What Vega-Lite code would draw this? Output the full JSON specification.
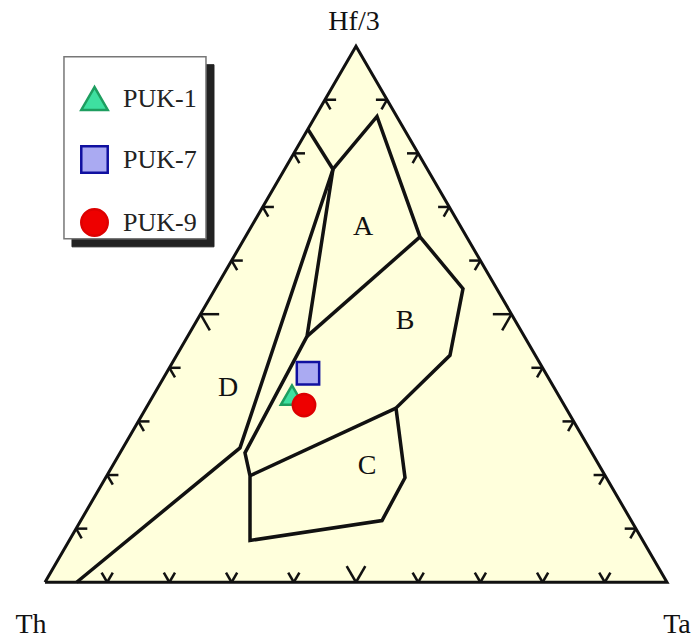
{
  "$schema": "https://vega.github.io/schema/vega-lite/v6.json",
  "width": 691,
  "height": 639,
  "autosize": {"type": "fit", "contains": "padding"},
  "padding": 0,
  "background": "white",
  "config": {"view": {"stroke": null}},
  "datasets": {
    "fillTri": [
      {"x": 0, "y": 0},
      {"x": 50, "y": 86.6},
      {"x": 100, "y": 0}
    ],
    "frame": [
      {"g": "frame", "i": 0, "x": 0, "y": 0},
      {"g": "frame", "i": 1, "x": 100, "y": 0},
      {"g": "frame", "i": 2, "x": 50, "y": 86.6},
      {"g": "frame", "i": 3, "x": 0, "y": 0}
    ],
    "fields": [
      {"g": "L1", "i": 0, "x": 42.28, "y": 73.15},
      {"g": "L1", "i": 1, "x": 46.3, "y": 66.72},
      {"g": "L2", "i": 0, "x": 46.3, "y": 66.72},
      {"g": "L2", "i": 1, "x": 53.38, "y": 75.24},
      {"g": "L2", "i": 2, "x": 60.29, "y": 55.79},
      {"g": "L2", "i": 3, "x": 67.2, "y": 47.43},
      {"g": "L2", "i": 4, "x": 65.11, "y": 36.66},
      {"g": "L2", "i": 5, "x": 56.43, "y": 28.14},
      {"g": "L2", "i": 6, "x": 57.88, "y": 16.88},
      {"g": "L2", "i": 7, "x": 54.18, "y": 9.97},
      {"g": "L2", "i": 8, "x": 32.96, "y": 6.75},
      {"g": "L2", "i": 9, "x": 32.96, "y": 17.2},
      {"g": "L2", "i": 10, "x": 32.15, "y": 20.9},
      {"g": "L2", "i": 11, "x": 42.12, "y": 39.71},
      {"g": "L2", "i": 12, "x": 46.3, "y": 66.72},
      {"g": "L3", "i": 0, "x": 46.3, "y": 66.72},
      {"g": "L3", "i": 1, "x": 31.35, "y": 21.7},
      {"g": "L3", "i": 2, "x": 5.09, "y": 0},
      {"g": "L4", "i": 0, "x": 60.29, "y": 55.79},
      {"g": "L4", "i": 1, "x": 42.12, "y": 39.71},
      {"g": "L5", "i": 0, "x": 32.96, "y": 17.2},
      {"g": "L5", "i": 1, "x": 56.43, "y": 28.14}
    ],
    "ticks": [
      {"x": 5, "y": 8.66, "x2": 6.8, "y2": 8.66}, {"x": 5, "y": 8.66, "x2": 5.9, "y2": 7.1},
      {"x": 10, "y": 17.32, "x2": 11.8, "y2": 17.32}, {"x": 10, "y": 17.32, "x2": 10.9, "y2": 15.76},
      {"x": 15, "y": 25.98, "x2": 16.8, "y2": 25.98}, {"x": 15, "y": 25.98, "x2": 15.9, "y2": 24.42},
      {"x": 20, "y": 34.64, "x2": 21.8, "y2": 34.64}, {"x": 20, "y": 34.64, "x2": 20.9, "y2": 33.08},
      {"x": 25, "y": 43.3, "x2": 28, "y2": 43.3}, {"x": 25, "y": 43.3, "x2": 26.5, "y2": 40.7},
      {"x": 30, "y": 51.96, "x2": 31.8, "y2": 51.96}, {"x": 30, "y": 51.96, "x2": 30.9, "y2": 50.4},
      {"x": 35, "y": 60.62, "x2": 36.8, "y2": 60.62}, {"x": 35, "y": 60.62, "x2": 35.9, "y2": 59.06},
      {"x": 40, "y": 69.28, "x2": 41.8, "y2": 69.28}, {"x": 40, "y": 69.28, "x2": 40.9, "y2": 67.72},
      {"x": 45, "y": 77.94, "x2": 46.8, "y2": 77.94}, {"x": 45, "y": 77.94, "x2": 45.9, "y2": 76.38},
      {"x": 95, "y": 8.66, "x2": 93.2, "y2": 8.66}, {"x": 95, "y": 8.66, "x2": 94.1, "y2": 7.1},
      {"x": 90, "y": 17.32, "x2": 88.2, "y2": 17.32}, {"x": 90, "y": 17.32, "x2": 89.1, "y2": 15.76},
      {"x": 85, "y": 25.98, "x2": 83.2, "y2": 25.98}, {"x": 85, "y": 25.98, "x2": 84.1, "y2": 24.42},
      {"x": 80, "y": 34.64, "x2": 78.2, "y2": 34.64}, {"x": 80, "y": 34.64, "x2": 79.1, "y2": 33.08},
      {"x": 75, "y": 43.3, "x2": 72, "y2": 43.3}, {"x": 75, "y": 43.3, "x2": 73.5, "y2": 40.7},
      {"x": 70, "y": 51.96, "x2": 68.2, "y2": 51.96}, {"x": 70, "y": 51.96, "x2": 69.1, "y2": 50.4},
      {"x": 65, "y": 60.62, "x2": 63.2, "y2": 60.62}, {"x": 65, "y": 60.62, "x2": 64.1, "y2": 59.06},
      {"x": 60, "y": 69.28, "x2": 58.2, "y2": 69.28}, {"x": 60, "y": 69.28, "x2": 59.1, "y2": 67.72},
      {"x": 55, "y": 77.94, "x2": 53.2, "y2": 77.94}, {"x": 55, "y": 77.94, "x2": 54.1, "y2": 76.38},
      {"x": 10, "y": 0, "x2": 9.1, "y2": 1.56}, {"x": 10, "y": 0, "x2": 10.9, "y2": 1.56},
      {"x": 20, "y": 0, "x2": 19.1, "y2": 1.56}, {"x": 20, "y": 0, "x2": 20.9, "y2": 1.56},
      {"x": 30, "y": 0, "x2": 29.1, "y2": 1.56}, {"x": 30, "y": 0, "x2": 30.9, "y2": 1.56},
      {"x": 40, "y": 0, "x2": 39.1, "y2": 1.56}, {"x": 40, "y": 0, "x2": 40.9, "y2": 1.56},
      {"x": 50, "y": 0, "x2": 48.5, "y2": 2.6}, {"x": 50, "y": 0, "x2": 51.5, "y2": 2.6},
      {"x": 60, "y": 0, "x2": 59.1, "y2": 1.56}, {"x": 60, "y": 0, "x2": 60.9, "y2": 1.56},
      {"x": 70, "y": 0, "x2": 69.1, "y2": 1.56}, {"x": 70, "y": 0, "x2": 70.9, "y2": 1.56},
      {"x": 80, "y": 0, "x2": 79.1, "y2": 1.56}, {"x": 80, "y": 0, "x2": 80.9, "y2": 1.56},
      {"x": 90, "y": 0, "x2": 89.1, "y2": 1.56}, {"x": 90, "y": 0, "x2": 90.9, "y2": 1.56}
    ],
    "labels": [
      {"text": "Hf/3", "x": 49.68, "y": 90.51},
      {"text": "Th", "x": -2.25, "y": -6.91},
      {"text": "Ta", "x": 101.6, "y": -6.91},
      {"text": "A", "x": 51.13, "y": 57.4},
      {"text": "B", "x": 57.88, "y": 42.12},
      {"text": "C", "x": 51.77, "y": 18.81},
      {"text": "D", "x": 29.42, "y": 31.35}
    ],
    "legendShadow": [
      {"x": 4.34, "x2": 27.17, "y": 83.6, "y2": 54.18}
    ],
    "legendBox": [
      {"x": 3.05, "x2": 25.88, "y": 84.9, "y2": 55.47}
    ],
    "samples": [
      {"name": "PUK-1", "x": 39.71, "y": 30.23},
      {"name": "PUK-7", "x": 42.28, "y": 33.76},
      {"name": "PUK-9", "x": 41.64, "y": 28.62}
    ]
  },
  "encoding": {
    "x": {"field": "x", "type": "quantitative", "axis": null,
          "scale": {"domain": [-7.235, 103.859], "nice": false, "zero": false}},
    "y": {"field": "y", "type": "quantitative", "axis": null,
          "scale": {"domain": [-8.682, 94.051], "nice": false, "zero": false}}
  },
  "layer": [
    {
      "data": {"name": "fillTri"},
      "mark": {"type": "area", "color": "#FFFFDC", "opacity": 1},
      "encoding": {"y2": {"datum": 0}}
    },
    {
      "data": {"name": "frame"},
      "mark": {"type": "line", "color": "#111111", "strokeWidth": 3, "strokeJoin": "miter"},
      "encoding": {"detail": {"field": "g"}, "order": {"field": "i", "type": "quantitative"}}
    },
    {
      "data": {"name": "ticks"},
      "mark": {"type": "rule", "color": "#111111", "strokeWidth": 2.5},
      "encoding": {
        "x2": {"field": "x2"},
        "y2": {"field": "y2"}
      }
    },
    {
      "data": {"name": "fields"},
      "mark": {"type": "line", "color": "#111111", "strokeWidth": 3.5, "strokeJoin": "miter"},
      "encoding": {"detail": {"field": "g"}, "order": {"field": "i", "type": "quantitative"}}
    },
    {
      "data": {"name": "labels"},
      "mark": {"type": "text", "font": "Liberation Serif", "fontSize": 28, "color": "#111111", "baseline": "middle", "align": "center"},
      "encoding": {"text": {"field": "text"}}
    },
    {
      "data": {"name": "legendShadow"},
      "mark": {"type": "rect", "fill": "#222222", "stroke": "#222222", "strokeWidth": 1},
      "encoding": {"x2": {"field": "x2"}, "y2": {"field": "y2"}}
    },
    {
      "data": {"name": "legendBox"},
      "mark": {"type": "rect", "fill": "#FFFFFF", "stroke": "#777777", "strokeWidth": 1.5},
      "encoding": {"x2": {"field": "x2"}, "y2": {"field": "y2"}}
    },
    {
      "data": {"name": "samples"},
      "mark": {"type": "point", "filled": true, "opacity": 1, "strokeWidth": 2.5, "size": 500},
      "encoding": {
        "shape": {"field": "name", "type": "nominal",
                  "scale": {"domain": ["PUK-1", "PUK-7", "PUK-9"], "range": ["triangle-up", "square", "circle"]},
                  "legend": {"title": null, "orient": "none", "legendX": 80, "legendY": 84,
                             "padding": 0, "rowPadding": 26, "symbolSize": 700, "symbolStrokeWidth": 2.5,
                             "labelFont": "Liberation Serif", "labelFontSize": 26, "labelColor": "#222222",
                             "labelOffset": 14, "symbolOpacity": 1}},
        "fill": {"field": "name", "type": "nominal",
                 "scale": {"domain": ["PUK-1", "PUK-7", "PUK-9"], "range": ["#3EE0A0", "#AAAAF2", "#EE0000"]},
                 "legend": {"title": null, "orient": "none", "legendX": 80, "legendY": 84,
                            "padding": 0, "rowPadding": 26, "symbolSize": 700, "symbolStrokeWidth": 2.5,
                            "labelFont": "Liberation Serif", "labelFontSize": 26, "labelColor": "#222222",
                            "labelOffset": 14, "symbolOpacity": 1}},
        "stroke": {"field": "name", "type": "nominal",
                   "scale": {"domain": ["PUK-1", "PUK-7", "PUK-9"], "range": ["#1E9E60", "#1010A0", "#DD0000"]},
                   "legend": {"title": null, "orient": "none", "legendX": 80, "legendY": 84,
                              "padding": 0, "rowPadding": 26, "symbolSize": 700, "symbolStrokeWidth": 2.5,
                              "labelFont": "Liberation Serif", "labelFontSize": 26, "labelColor": "#222222",
                              "labelOffset": 14, "symbolOpacity": 1}}
      }
    }
  ]
}
